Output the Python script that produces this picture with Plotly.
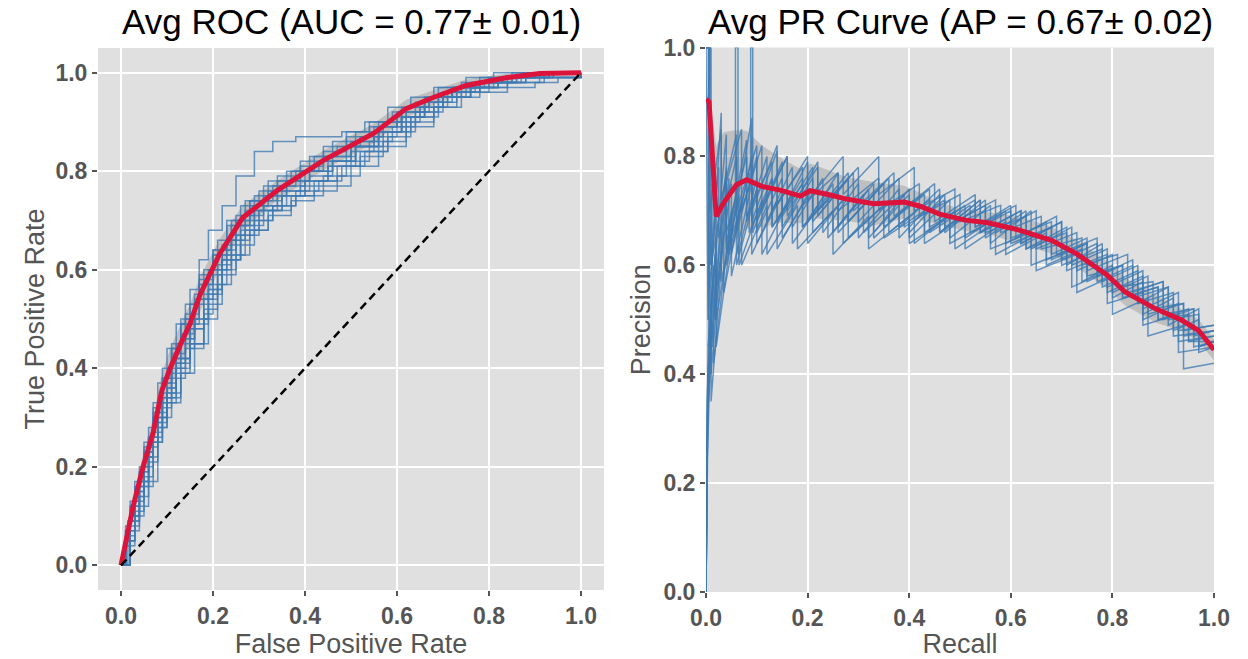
import plotly.graph_objects as go
import numpy as np

W, H = 1248, 659

# ---------------- data: ROC ----------------
auc_mean, auc_std = 0.77, 0.01
ap_mean, ap_std = 0.67, 0.02

roc_mean_fpr = [0, 0.026, 0.048, 0.07, 0.089, 0.107, 0.13, 0.15, 0.172, 0.215, 0.265, 0.34, 0.44, 0.55, 0.62, 0.68, 0.75, 0.84, 0.91, 1.0]
roc_mean_tpr = [0, 0.118, 0.2, 0.27, 0.355, 0.40, 0.45, 0.49, 0.55, 0.633, 0.706, 0.761, 0.822, 0.877, 0.927, 0.95, 0.974, 0.99, 0.998, 1.0]
roc_std_tpr = [0, 0.02, 0.025, 0.03, 0.035, 0.04, 0.04, 0.04, 0.035, 0.03, 0.025, 0.02, 0.02, 0.02, 0.018, 0.015, 0.012, 0.008, 0.004, 0]

roc_fold_fpr = [
    [0, 0.01, 0.03, 0.05, 0.07, 0.09, 0.11, 0.13, 0.15, 0.17, 0.19, 0.22, 0.25, 0.29, 0.33, 0.38, 0.43, 0.48, 0.53, 0.58, 0.63, 0.68, 0.74, 0.8, 0.87, 1],
    [0, 0.02, 0.04, 0.06, 0.08, 0.1, 0.12, 0.14, 0.16, 0.19, 0.22, 0.26, 0.3, 0.35, 0.4, 0.45, 0.5, 0.55, 0.6, 0.65, 0.7, 0.76, 0.82, 0.9, 1],
    [0, 0.01, 0.03, 0.05, 0.07, 0.09, 0.11, 0.13, 0.15, 0.18, 0.21, 0.24, 0.28, 0.32, 0.37, 0.42, 0.47, 0.52, 0.57, 0.62, 0.68, 0.74, 0.8, 0.88, 1],
    [0, 0.01, 0.02, 0.04, 0.06, 0.08, 0.1, 0.12, 0.14, 0.17, 0.2, 0.24, 0.28, 0.33, 0.38, 0.43, 0.49, 0.55, 0.61, 0.67, 0.73, 0.79, 0.86, 0.93, 1],
    [0, 0.02, 0.03, 0.05, 0.07, 0.1, 0.12, 0.15, 0.17, 0.2, 0.23, 0.27, 0.31, 0.36, 0.41, 0.46, 0.51, 0.56, 0.61, 0.66, 0.71, 0.77, 0.83, 0.9, 1],
    [0, 0.01, 0.03, 0.05, 0.08, 0.1, 0.13, 0.16, 0.19, 0.22, 0.25, 0.29, 0.33, 0.38, 0.43, 0.48, 0.53, 0.58, 0.63, 0.68, 0.73, 0.78, 0.84, 0.91, 1],
    [0, 0.015, 0.03, 0.05, 0.07, 0.09, 0.11, 0.14, 0.17, 0.2, 0.24, 0.28, 0.32, 0.37, 0.42, 0.47, 0.52, 0.57, 0.62, 0.67, 0.72, 0.78, 0.84, 0.92, 1],
    [0, 0.01, 0.02, 0.04, 0.07, 0.09, 0.12, 0.15, 0.18, 0.21, 0.25, 0.29, 0.34, 0.39, 0.44, 0.49, 0.54, 0.59, 0.64, 0.69, 0.74, 0.8, 0.86, 0.93, 1],
    [0, 0.02, 0.04, 0.06, 0.08, 0.1, 0.12, 0.14, 0.17, 0.2, 0.23, 0.26, 0.3, 0.34, 0.39, 0.44, 0.49, 0.54, 0.59, 0.64, 0.69, 0.75, 0.81, 0.88, 1],
    [0, 0.01, 0.03, 0.05, 0.07, 0.09, 0.12, 0.14, 0.16, 0.19, 0.22, 0.26, 0.31, 0.36, 0.41, 0.46, 0.51, 0.56, 0.61, 0.66, 0.71, 0.76, 0.82, 0.89, 1],
    [0, 0.02, 0.04, 0.06, 0.08, 0.1, 0.12, 0.15, 0.18, 0.21, 0.24, 0.28, 0.33, 0.38, 0.44, 0.5, 0.56, 0.62, 0.68, 0.73, 0.78, 0.84, 0.9, 0.95, 1],
    [0, 0.01, 0.03, 0.05, 0.07, 0.09, 0.11, 0.13, 0.16, 0.19, 0.22, 0.25, 0.29, 0.34, 0.39, 0.44, 0.5, 0.56, 0.62, 0.67, 0.72, 0.78, 0.85, 0.92, 1],
    [0, 0.01, 0.02, 0.04, 0.06, 0.08, 0.1, 0.12, 0.15, 0.18, 0.21, 0.24, 0.27, 0.31, 0.35, 0.4, 0.45, 0.5, 0.55, 0.6, 0.66, 0.72, 0.78, 0.85, 0.92, 1],
    [0, 0.02, 0.03, 0.05, 0.07, 0.09, 0.11, 0.13, 0.15, 0.17, 0.2, 0.23, 0.27, 0.31, 0.36, 0.41, 0.46, 0.51, 0.56, 0.61, 0.66, 0.72, 0.78, 0.85, 1],
    [0, 0.01, 0.03, 0.06, 0.08, 0.1, 0.13, 0.15, 0.18, 0.2, 0.23, 0.27, 0.32, 0.37, 0.42, 0.47, 0.52, 0.58, 0.64, 0.7, 0.76, 0.82, 0.88, 0.94, 1],
    [0, 0.02, 0.04, 0.05, 0.07, 0.09, 0.11, 0.13, 0.16, 0.18, 0.21, 0.25, 0.29, 0.34, 0.39, 0.44, 0.49, 0.54, 0.6, 0.65, 0.7, 0.76, 0.83, 0.9, 1],
    [0, 0.01, 0.02, 0.04, 0.06, 0.08, 0.11, 0.14, 0.16, 0.19, 0.22, 0.26, 0.3, 0.35, 0.4, 0.45, 0.51, 0.57, 0.63, 0.69, 0.75, 0.81, 0.87, 0.94, 1],
    [0, 0.02, 0.04, 0.06, 0.09, 0.11, 0.13, 0.16, 0.19, 0.22, 0.25, 0.28, 0.32, 0.36, 0.41, 0.46, 0.51, 0.56, 0.61, 0.66, 0.72, 0.78, 0.84, 0.91, 1],
]
roc_fold_tpr = [
    [0, 0.06, 0.15, 0.23, 0.3, 0.37, 0.44, 0.5, 0.56, 0.62, 0.68, 0.73, 0.79, 0.84, 0.86, 0.87, 0.87, 0.88, 0.9, 0.93, 0.95, 0.97, 0.98, 0.99, 1, 1],
    [0, 0.07, 0.14, 0.21, 0.28, 0.34, 0.4, 0.45, 0.5, 0.55, 0.62, 0.68, 0.72, 0.75, 0.78, 0.81, 0.84, 0.87, 0.9, 0.93, 0.95, 0.97, 0.99, 1, 1],
    [0, 0.05, 0.11, 0.18, 0.26, 0.3, 0.34, 0.4, 0.44, 0.5, 0.57, 0.63, 0.68, 0.71, 0.74, 0.76, 0.79, 0.83, 0.86, 0.9, 0.93, 0.96, 0.98, 0.99, 1],
    [0, 0.08, 0.13, 0.2, 0.28, 0.37, 0.44, 0.49, 0.53, 0.59, 0.64, 0.7, 0.74, 0.77, 0.8, 0.82, 0.85, 0.88, 0.92, 0.95, 0.97, 0.98, 0.99, 1, 1],
    [0, 0.1, 0.15, 0.22, 0.3, 0.36, 0.42, 0.49, 0.54, 0.6, 0.66, 0.72, 0.75, 0.78, 0.8, 0.82, 0.85, 0.88, 0.91, 0.94, 0.96, 0.98, 0.99, 1, 1],
    [0, 0.04, 0.1, 0.17, 0.28, 0.33, 0.39, 0.45, 0.53, 0.6, 0.65, 0.7, 0.73, 0.76, 0.78, 0.81, 0.84, 0.87, 0.91, 0.94, 0.96, 0.97, 0.98, 0.99, 1],
    [0, 0.09, 0.16, 0.23, 0.31, 0.38, 0.43, 0.5, 0.57, 0.63, 0.69, 0.74, 0.78, 0.8, 0.83, 0.85, 0.87, 0.9, 0.93, 0.95, 0.96, 0.97, 0.98, 0.99, 1],
    [0, 0.06, 0.1, 0.16, 0.25, 0.33, 0.39, 0.45, 0.52, 0.59, 0.67, 0.72, 0.75, 0.77, 0.79, 0.82, 0.86, 0.89, 0.92, 0.95, 0.97, 0.98, 0.99, 1, 1],
    [0, 0.1, 0.19, 0.26, 0.33, 0.39, 0.45, 0.51, 0.57, 0.63, 0.69, 0.73, 0.76, 0.79, 0.82, 0.85, 0.88, 0.9, 0.92, 0.94, 0.97, 0.99, 1, 1, 1],
    [0, 0.07, 0.13, 0.2, 0.27, 0.35, 0.41, 0.46, 0.49, 0.56, 0.62, 0.69, 0.73, 0.76, 0.79, 0.83, 0.86, 0.88, 0.91, 0.93, 0.95, 0.97, 0.99, 1, 1],
    [0, 0.08, 0.16, 0.24, 0.3, 0.36, 0.42, 0.48, 0.54, 0.6, 0.66, 0.7, 0.73, 0.75, 0.77, 0.81, 0.85, 0.89, 0.93, 0.95, 0.96, 0.97, 0.98, 0.99, 1],
    [0, 0.05, 0.14, 0.22, 0.29, 0.34, 0.41, 0.47, 0.54, 0.59, 0.64, 0.69, 0.73, 0.76, 0.8, 0.82, 0.85, 0.89, 0.93, 0.95, 0.97, 0.99, 1, 1, 1],
    [0, 0.04, 0.09, 0.17, 0.25, 0.31, 0.37, 0.42, 0.48, 0.55, 0.61, 0.67, 0.71, 0.74, 0.77, 0.8, 0.83, 0.86, 0.89, 0.92, 0.95, 0.97, 0.98, 0.99, 1, 1],
    [0, 0.11, 0.17, 0.25, 0.33, 0.4, 0.45, 0.49, 0.53, 0.58, 0.64, 0.7, 0.74, 0.77, 0.8, 0.83, 0.86, 0.88, 0.9, 0.93, 0.95, 0.97, 0.98, 0.99, 1],
    [0, 0.05, 0.12, 0.22, 0.29, 0.35, 0.41, 0.45, 0.51, 0.57, 0.63, 0.68, 0.72, 0.75, 0.78, 0.81, 0.84, 0.88, 0.92, 0.95, 0.97, 0.98, 0.99, 1, 1],
    [0, 0.12, 0.18, 0.24, 0.32, 0.38, 0.44, 0.49, 0.55, 0.6, 0.66, 0.71, 0.75, 0.78, 0.81, 0.84, 0.87, 0.89, 0.91, 0.93, 0.96, 0.98, 0.99, 1, 1],
    [0, 0.07, 0.12, 0.19, 0.26, 0.32, 0.38, 0.44, 0.5, 0.56, 0.62, 0.67, 0.72, 0.75, 0.78, 0.81, 0.85, 0.88, 0.91, 0.95, 0.97, 0.98, 0.99, 1, 1],
    [0, 0.09, 0.17, 0.25, 0.34, 0.4, 0.46, 0.53, 0.6, 0.65, 0.7, 0.73, 0.76, 0.78, 0.8, 0.82, 0.85, 0.88, 0.91, 0.94, 0.96, 0.98, 0.99, 1, 1],
]

# ---------------- data: PR ----------------
pr_mean_recall = [0, 0.006, 0.02, 0.035, 0.06, 0.08, 0.11, 0.146, 0.186, 0.205, 0.24, 0.275, 0.33, 0.39, 0.42, 0.46, 0.51, 0.555, 0.615, 0.68, 0.73, 0.79, 0.825, 0.885, 0.935, 0.97, 1.0]
pr_mean_precision = [0.905, 0.9, 0.69, 0.715, 0.748, 0.757, 0.745, 0.738, 0.727, 0.737, 0.73, 0.722, 0.713, 0.716, 0.709, 0.694, 0.683, 0.678, 0.665, 0.646, 0.621, 0.582, 0.551, 0.52, 0.5, 0.48, 0.445]
pr_std_precision = [0.0, 0.02, 0.13, 0.13, 0.1, 0.09, 0.075, 0.06, 0.05, 0.05, 0.045, 0.04, 0.04, 0.03, 0.025, 0.02, 0.02, 0.02, 0.025, 0.025, 0.025, 0.025, 0.025, 0.025, 0.02, 0.02, 0.02]

pr_fold_recall = [
    [0, 0.004, 0.012, 0.012, 0.04, 0.04, 0.08, 0.08, 0.13, 0.13, 0.19, 0.19, 0.26, 0.26, 0.34, 0.34, 0.42, 0.42, 0.5, 0.5, 0.58, 0.58, 0.66, 0.66, 0.74, 0.74, 0.81, 0.81, 0.88, 0.88, 0.94, 0.94, 1.0],
    [0, 0.003, 0.02, 0.02, 0.06, 0.06, 0.1, 0.1, 0.15, 0.15, 0.21, 0.21, 0.28, 0.28, 0.36, 0.36, 0.44, 0.44, 0.52, 0.52, 0.6, 0.6, 0.68, 0.68, 0.75, 0.75, 0.82, 0.82, 0.89, 0.89, 0.95, 0.95, 1.0],
    [0, 0.005, 0.005, 0.03, 0.03, 0.07, 0.07, 0.11, 0.11, 0.16, 0.16, 0.22, 0.22, 0.3, 0.3, 0.38, 0.38, 0.46, 0.46, 0.54, 0.54, 0.62, 0.62, 0.7, 0.7, 0.78, 0.78, 0.85, 0.85, 0.92, 0.92, 0.97, 0.97, 1.0],
    [0, 0.004, 0.015, 0.015, 0.05, 0.05, 0.09, 0.09, 0.14, 0.14, 0.2, 0.2, 0.27, 0.27, 0.35, 0.35, 0.43, 0.43, 0.51, 0.51, 0.59, 0.59, 0.67, 0.67, 0.74, 0.74, 0.8, 0.8, 0.86, 0.86, 0.93, 0.93, 1.0],
    [0, 0.008, 0.008, 0.025, 0.025, 0.06, 0.06, 0.1, 0.1, 0.15, 0.15, 0.21, 0.21, 0.28, 0.28, 0.36, 0.36, 0.44, 0.44, 0.53, 0.53, 0.61, 0.61, 0.69, 0.69, 0.77, 0.77, 0.84, 0.84, 0.9, 0.9, 0.96, 0.96, 1.0],
    [0, 0.003, 0.01, 0.01, 0.035, 0.035, 0.07, 0.07, 0.12, 0.12, 0.18, 0.18, 0.25, 0.25, 0.32, 0.32, 0.4, 0.4, 0.48, 0.48, 0.56, 0.56, 0.64, 0.64, 0.72, 0.72, 0.79, 0.79, 0.86, 0.86, 0.93, 0.93, 1.0],
    [0, 0.006, 0.006, 0.02, 0.02, 0.05, 0.05, 0.09, 0.09, 0.14, 0.14, 0.2, 0.2, 0.27, 0.27, 0.34, 0.34, 0.41, 0.41, 0.49, 0.49, 0.57, 0.57, 0.65, 0.65, 0.73, 0.73, 0.8, 0.8, 0.87, 0.87, 0.94, 0.94, 1.0],
    [0, 0.004, 0.018, 0.018, 0.045, 0.045, 0.085, 0.085, 0.13, 0.13, 0.19, 0.19, 0.26, 0.26, 0.33, 0.33, 0.41, 0.41, 0.49, 0.49, 0.57, 0.57, 0.65, 0.65, 0.73, 0.73, 0.8, 0.8, 0.87, 0.87, 0.94, 0.94, 1.0],
    [0, 0.002, 0.01, 0.01, 0.04, 0.04, 0.09, 0.09, 0.14, 0.14, 0.2, 0.2, 0.26, 0.26, 0.33, 0.33, 0.4, 0.4, 0.47, 0.47, 0.55, 0.55, 0.63, 0.63, 0.71, 0.71, 0.78, 0.78, 0.85, 0.85, 0.91, 0.91, 0.97, 0.97, 1.0],
    [0, 0.005, 0.005, 0.015, 0.015, 0.04, 0.04, 0.08, 0.08, 0.12, 0.12, 0.17, 0.17, 0.23, 0.23, 0.3, 0.3, 0.38, 0.38, 0.46, 0.46, 0.54, 0.54, 0.62, 0.62, 0.7, 0.7, 0.77, 0.77, 0.84, 0.84, 0.91, 0.91, 0.97, 0.97, 1.0],
    [0, 0.003, 0.012, 0.012, 0.03, 0.03, 0.065, 0.065, 0.11, 0.11, 0.17, 0.17, 0.24, 0.24, 0.31, 0.31, 0.39, 0.39, 0.47, 0.47, 0.55, 0.55, 0.63, 0.63, 0.71, 0.71, 0.79, 0.79, 0.86, 0.86, 0.92, 0.92, 1.0],
    [0, 0.007, 0.007, 0.03, 0.03, 0.06, 0.06, 0.1, 0.1, 0.16, 0.16, 0.22, 0.22, 0.29, 0.29, 0.37, 0.37, 0.45, 0.45, 0.53, 0.53, 0.6, 0.6, 0.68, 0.68, 0.75, 0.75, 0.83, 0.83, 0.9, 0.9, 0.96, 0.96, 1.0],
    [0, 0.004, 0.02, 0.02, 0.058, 0.058, 0.063, 0.063, 0.1, 0.1, 0.15, 0.15, 0.21, 0.21, 0.28, 0.28, 0.35, 0.35, 0.43, 0.43, 0.51, 0.51, 0.59, 0.59, 0.67, 0.67, 0.75, 0.75, 0.82, 0.82, 0.89, 0.89, 0.95, 0.95, 1.0],
    [0, 0.01, 0.01, 0.04, 0.04, 0.088, 0.088, 0.092, 0.092, 0.13, 0.13, 0.19, 0.19, 0.25, 0.25, 0.32, 0.32, 0.4, 0.4, 0.48, 0.48, 0.56, 0.56, 0.64, 0.64, 0.72, 0.72, 0.79, 0.79, 0.86, 0.86, 0.93, 0.93, 1.0],
]
pr_fold_precision = [
    [1.0, 0.5, 0.75, 0.55, 0.84, 0.66, 0.8, 0.69, 0.79, 0.7, 0.78, 0.71, 0.77, 0.7, 0.76, 0.7, 0.75, 0.69, 0.73, 0.68, 0.71, 0.66, 0.69, 0.63, 0.65, 0.6, 0.62, 0.56, 0.57, 0.52, 0.53, 0.48, 0.49],
    [0.0, 0.33, 0.6, 0.45, 0.72, 0.6, 0.74, 0.64, 0.73, 0.65, 0.74, 0.66, 0.73, 0.65, 0.72, 0.66, 0.72, 0.66, 0.71, 0.66, 0.7, 0.64, 0.67, 0.61, 0.64, 0.58, 0.6, 0.54, 0.56, 0.5, 0.51, 0.46, 0.46],
    [1.0, 1.0, 0.5, 0.88, 0.72, 0.85, 0.7, 0.82, 0.7, 0.8, 0.69, 0.79, 0.7, 0.78, 0.68, 0.76, 0.67, 0.74, 0.66, 0.72, 0.66, 0.7, 0.64, 0.68, 0.6, 0.63, 0.56, 0.59, 0.53, 0.55, 0.48, 0.5, 0.45, 0.46],
    [0.0, 0.4, 0.5, 0.42, 0.7, 0.58, 0.75, 0.62, 0.72, 0.63, 0.73, 0.64, 0.72, 0.64, 0.71, 0.65, 0.7, 0.64, 0.69, 0.63, 0.68, 0.62, 0.66, 0.6, 0.63, 0.57, 0.6, 0.54, 0.57, 0.5, 0.53, 0.46, 0.47],
    [1.0, 1.0, 0.6, 0.78, 0.65, 0.8, 0.66, 0.8, 0.68, 0.79, 0.69, 0.78, 0.69, 0.77, 0.68, 0.76, 0.68, 0.74, 0.67, 0.72, 0.67, 0.71, 0.65, 0.69, 0.62, 0.65, 0.58, 0.61, 0.55, 0.57, 0.5, 0.52, 0.45, 0.46],
    [0.0, 0.25, 0.5, 0.35, 0.66, 0.55, 0.72, 0.6, 0.71, 0.62, 0.71, 0.63, 0.7, 0.62, 0.69, 0.63, 0.69, 0.64, 0.69, 0.64, 0.68, 0.63, 0.66, 0.6, 0.63, 0.56, 0.59, 0.53, 0.55, 0.49, 0.51, 0.44, 0.45],
    [1.0, 1.0, 0.55, 0.7, 0.55, 0.75, 0.62, 0.8, 0.68, 0.81, 0.71, 0.8, 0.72, 0.8, 0.73, 0.8, 0.73, 0.78, 0.7, 0.74, 0.68, 0.72, 0.66, 0.7, 0.63, 0.66, 0.59, 0.62, 0.55, 0.58, 0.51, 0.53, 0.47, 0.48],
    [0.0, 0.45, 0.62, 0.5, 0.76, 0.62, 0.77, 0.66, 0.76, 0.67, 0.75, 0.67, 0.74, 0.66, 0.73, 0.65, 0.72, 0.64, 0.7, 0.63, 0.68, 0.62, 0.66, 0.59, 0.62, 0.55, 0.58, 0.51, 0.54, 0.47, 0.49, 0.41, 0.42],
    [0.0, 0.35, 0.55, 0.4, 0.75, 0.6, 0.87, 0.7, 0.82, 0.68, 0.79, 0.68, 0.77, 0.67, 0.75, 0.66, 0.74, 0.66, 0.73, 0.66, 0.72, 0.65, 0.7, 0.63, 0.67, 0.6, 0.64, 0.57, 0.6, 0.53, 0.56, 0.49, 0.52, 0.45, 0.46],
    [1.0, 1.0, 0.45, 0.6, 0.5, 0.78, 0.64, 0.83, 0.68, 0.8, 0.68, 0.78, 0.67, 0.76, 0.66, 0.75, 0.65, 0.74, 0.65, 0.73, 0.66, 0.72, 0.66, 0.7, 0.64, 0.68, 0.61, 0.64, 0.57, 0.6, 0.54, 0.56, 0.5, 0.51, 0.44, 0.45],
    [0.0, 0.3, 0.56, 0.45, 0.7, 0.57, 0.73, 0.6, 0.72, 0.62, 0.73, 0.64, 0.73, 0.65, 0.73, 0.66, 0.73, 0.67, 0.72, 0.67, 0.71, 0.66, 0.69, 0.63, 0.66, 0.59, 0.62, 0.55, 0.58, 0.51, 0.54, 0.47, 0.48],
    [1.0, 1.0, 0.7, 0.85, 0.72, 0.84, 0.7, 0.82, 0.69, 0.8, 0.7, 0.78, 0.69, 0.77, 0.7, 0.77, 0.69, 0.75, 0.68, 0.73, 0.67, 0.71, 0.65, 0.68, 0.62, 0.65, 0.59, 0.62, 0.55, 0.57, 0.51, 0.52, 0.47, 0.48],
    [0.0, 0.4, 0.65, 0.5, 0.72, 1.0, 1.0, 0.62, 0.76, 0.66, 0.76, 0.67, 0.76, 0.68, 0.76, 0.68, 0.75, 0.67, 0.73, 0.66, 0.71, 0.65, 0.7, 0.64, 0.68, 0.61, 0.64, 0.57, 0.6, 0.54, 0.56, 0.5, 0.52, 0.46, 0.47],
    [1.0, 1.0, 0.6, 0.77, 0.63, 0.75, 1.0, 1.0, 0.66, 0.76, 0.67, 0.76, 0.67, 0.75, 0.66, 0.74, 0.65, 0.73, 0.65, 0.72, 0.65, 0.71, 0.64, 0.7, 0.63, 0.67, 0.6, 0.63, 0.56, 0.59, 0.52, 0.55, 0.48, 0.49],
]

tick_vals = [0.0, 0.2, 0.4, 0.6, 0.8, 1.0]
tick_text = ["0.0", "0.2", "0.4", "0.6", "0.8", "1.0"]

# ---------------- style ----------------
BG = "#E0E0E0"
FOLD = "rgba(62,122,178,0.78)"
BAND = "rgba(150,150,150,0.45)"
MEAN = "#DC143C"
FONT = "Liberation Sans"

fig = go.Figure()

# ROC band
roc_up = np.minimum(np.array(roc_mean_tpr) + np.array(roc_std_tpr), 1.0)
roc_lo = np.maximum(np.array(roc_mean_tpr) - np.array(roc_std_tpr), 0.0)
fig.add_trace(go.Scatter(x=roc_mean_fpr + roc_mean_fpr[::-1],
                         y=list(roc_up) + list(roc_lo[::-1]),
                         fill="toself", fillcolor=BAND, line=dict(width=0),
                         mode="lines", xaxis="x", yaxis="y", showlegend=False, hoverinfo="skip"))
for fx, ty in zip(roc_fold_fpr, roc_fold_tpr):
    fig.add_trace(go.Scatter(x=fx, y=ty, mode="lines", line=dict(color=FOLD, width=1.5, shape="hv"),
                             xaxis="x", yaxis="y", showlegend=False))
fig.add_trace(go.Scatter(x=roc_mean_fpr, y=roc_mean_tpr, mode="lines",
                         line=dict(color=MEAN, width=5), xaxis="x", yaxis="y", showlegend=False))
fig.add_trace(go.Scatter(x=[0, 1], y=[0, 1], mode="lines",
                         line=dict(color="black", width=2.5, dash="8px,5px"),
                         xaxis="x", yaxis="y", showlegend=False))

# PR band
pr_up = np.minimum(np.array(pr_mean_precision) + np.array(pr_std_precision), 1.0)
pr_lo = np.maximum(np.array(pr_mean_precision) - np.array(pr_std_precision), 0.0)
fig.add_trace(go.Scatter(x=pr_mean_recall + pr_mean_recall[::-1],
                         y=list(pr_up) + list(pr_lo[::-1]),
                         fill="toself", fillcolor=BAND, line=dict(width=0),
                         mode="lines", xaxis="x2", yaxis="y2", showlegend=False, hoverinfo="skip"))
for rx, py in zip(pr_fold_recall, pr_fold_precision):
    fig.add_trace(go.Scatter(x=rx, y=py, mode="lines", line=dict(color=FOLD, width=1.5),
                             xaxis="x2", yaxis="y2", showlegend=False))
fig.add_trace(go.Scatter(x=pr_mean_recall, y=pr_mean_precision, mode="lines",
                         line=dict(color=MEAN, width=5), xaxis="x2", yaxis="y2", showlegend=False))

tickfont = dict(family=FONT, size=23, color="#555555", weight="bold")
titlefont = dict(family=FONT, size=27, color="#555555")
common = dict(showgrid=True, gridcolor="white", gridwidth=1.5, zeroline=False,
              ticks="outside", ticklen=5, tickwidth=1.5, tickcolor="#555555",
              tickvals=tick_vals, ticktext=tick_text, tickfont=tickfont,
              showline=False, layer="below traces", automargin=False)

fig.update_layout(
    width=W, height=H,
    margin=dict(l=0, r=0, t=0, b=0, autoexpand=False),
    paper_bgcolor="white",
    plot_bgcolor=BG,
    showlegend=False,
    xaxis=dict(domain=[98 / W, 604 / W], range=[-0.05, 1.05], anchor="y",
               title=dict(text="False Positive Rate", font=titlefont, standoff=8), **common),
    yaxis=dict(domain=[1 - 590 / H, 1 - 48 / H], range=[-0.05, 1.05], anchor="x",
               title=dict(text="True Positive Rate", font=titlefont, standoff=2), **common),
    xaxis2=dict(domain=[706 / W, 1214 / W], range=[0, 1], anchor="y2",
                title=dict(text="Recall", font=titlefont, standoff=8), **common),
    yaxis2=dict(domain=[1 - 592 / H, 1 - 47.5 / H], range=[0, 1], anchor="x2",
                title=dict(text="Precision", font=titlefont, standoff=4), **common),
    annotations=[
        dict(text=f"Avg ROC (AUC = {auc_mean:.2f}\u00b1 {auc_std:.2f})", x=351 / W, y=1 - 22 / H,
             xref="paper", yref="paper", xanchor="center", yanchor="middle", showarrow=False,
             font=dict(family=FONT, size=35, color="black")),
        dict(text=f"Avg PR Curve (AP = {ap_mean:.2f}\u00b1 {ap_std:.2f})", x=960 / W, y=1 - 22 / H,
             xref="paper", yref="paper", xanchor="center", yanchor="middle", showarrow=False,
             font=dict(family=FONT, size=35, color="black")),
    ],
)

fig.write_html("out.html")
